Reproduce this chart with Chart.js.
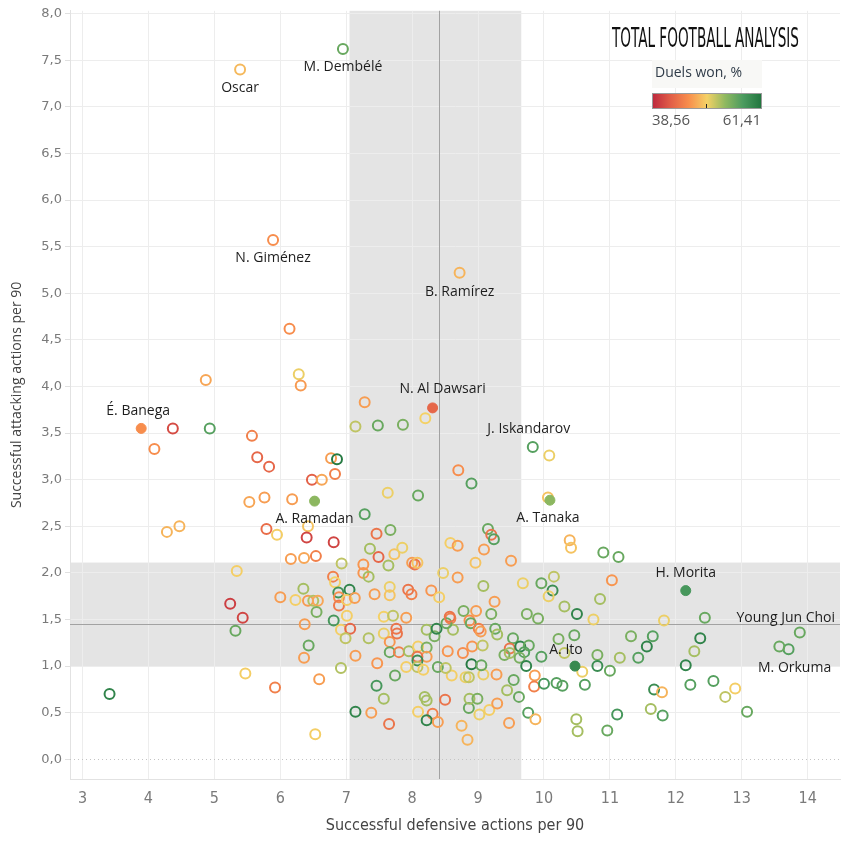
<!DOCTYPE html>
<html><head><meta charset="utf-8">
<script src="https://cdn.jsdelivr.net/npm/chart.js@4.4.1/dist/chart.umd.min.js"></script>
<style>html,body{margin:0;padding:0;background:#fff;}canvas{display:block;}</style>
</head><body>
<canvas id="c" width="847" height="849"></canvas>
<script>
// ---------- DATA ----------
const playerNames = ['É. Banega','A. Ramadan','N. Al Dawsari','A. Tanaka','H. Morita','A. Ito',
  'M. Dembélé','Oscar','N. Giménez','B. Ramírez','J. Iskandarov','Young Jun Choi','M. Orkuma'];
const filledPlayers = ['É. Banega','A. Ramadan','N. Al Dawsari','A. Tanaka','H. Morita','A. Ito'];

const defActions = [
  3.89, 6.52, 8.31, 10.09, 12.15, 10.47, 6.95, 5.39, 5.89, 8.72, 9.83, 13.88, 13.71,
  6.14, 4.87, 6.28, 6.31, 7.28, 7.14, 7.48, 7.86, 8.20, 4.37,
  4.93, 4.09, 5.57, 5.65, 5.83, 6.77, 6.86, 6.48, 6.63, 6.83,
  5.53, 5.76, 6.18, 4.28, 4.47, 5.79, 5.95, 6.42, 6.40, 6.81,
  6.16, 6.36, 6.54, 6.93, 5.34, 6.80, 6.83, 6.35, 6.88, 7.05,
  5.24, 6.00, 6.23, 6.42, 6.50, 6.57, 6.55, 6.89, 6.89, 7.01,
  7.13, 5.43, 5.32, 6.37, 6.43, 6.36, 6.81, 7.01, 6.92, 7.06,
  6.99, 7.34, 7.14, 7.47, 7.57, 7.66, 7.66, 7.57, 6.92, 5.47,
  5.92, 6.59, 3.41, 6.53, 7.14, 7.38, 7.46, 7.57, 7.65, 7.46,
  7.67, 7.36, 7.49, 7.73, 7.85, 7.26, 7.26, 7.34, 7.64, 8.00,
  8.04, 8.08, 7.43, 7.66, 7.66, 7.94, 7.99, 8.29, 8.41, 7.71,
  7.91, 7.76, 7.77, 7.80, 7.95, 8.09, 8.22, 8.22, 8.34, 8.37,
  8.22, 8.08, 8.08, 7.91, 8.08, 8.17, 8.39, 7.74, 8.19, 8.22,
  8.09, 8.31, 8.22, 8.39, 8.58, 8.69, 9.15, 9.20, 9.24, 9.09,
  8.96, 9.50, 10.39, 10.41, 10.90, 11.13, 8.47, 8.69, 9.08, 9.25,
  9.68, 9.96, 10.15, 10.13, 10.07, 11.03, 10.85, 10.31, 10.50, 10.75,
  9.74, 9.91, 8.78, 8.97, 9.20, 8.58, 8.87, 8.89, 8.62, 9.01,
  9.04, 9.26, 9.29, 9.53, 8.54, 8.77, 8.91, 9.07, 9.48, 9.40,
  9.48, 9.64, 9.77, 9.70, 9.63, 9.96, 10.22, 10.46, 10.31, 10.81,
  10.81, 11.00, 10.58, 11.15, 11.32, 11.43, 9.73, 9.86, 9.85, 10.00,
  10.19, 10.28, 10.62, 9.54, 9.44, 9.62, 9.28, 9.08, 8.81, 8.86,
  8.60, 8.51, 8.90, 9.05, 8.50, 8.86, 8.87, 8.99, 9.02, 9.17,
  9.29, 8.75, 8.84, 9.47, 9.76, 9.87, 10.49, 10.51, 10.96, 11.11,
  8.52, 8.57, 10.08, 8.70, 8.90, 7.63, 8.09, 10.06, 7.28, 11.82,
  12.44, 11.65, 11.56, 12.37, 12.28, 12.15, 13.57, 11.67, 11.79, 11.62,
  11.80, 12.22, 12.57, 12.75, 12.90, 13.08
];
const attActions = [
  3.55, 2.77, 3.77, 2.78, 1.81, 1.00, 7.62, 7.40, 5.57, 5.22, 3.35, 1.36, 1.18,
  4.62, 4.07, 4.13, 4.01, 3.83, 3.57, 3.58, 3.59, 3.66, 3.55,
  3.55, 3.33, 3.47, 3.24, 3.14, 3.23, 3.22, 3.00, 3.00, 3.06,
  2.76, 2.81, 2.79, 2.44, 2.50, 2.47, 2.41, 2.50, 2.38, 2.33,
  2.15, 2.16, 2.18, 2.10, 2.02, 1.96, 1.90, 1.83, 1.79, 1.82,
  1.67, 1.74, 1.71, 1.70, 1.70, 1.70, 1.58, 1.74, 1.65, 1.71,
  1.73, 1.52, 1.38, 1.45, 1.22, 1.09, 1.49, 1.54, 1.39, 1.40,
  1.30, 1.30, 1.11, 1.03, 1.35, 1.26, 1.15, 1.53, 0.98, 0.92,
  0.77, 0.86, 0.70, 0.27, 0.51, 0.50, 0.79, 0.65, 0.38, 2.42,
  2.46, 2.26, 2.17, 2.20, 2.27, 2.09, 2.00, 1.96, 2.08, 2.11,
  2.09, 2.11, 1.77, 1.85, 1.76, 1.82, 1.77, 1.81, 1.74, 1.54,
  1.52, 1.40, 1.35, 1.15, 1.16, 1.21, 1.20, 1.39, 1.32, 1.40,
  1.10, 1.10, 1.06, 0.99, 0.99, 0.96, 0.99, 0.90, 0.67, 0.63,
  0.51, 0.49, 0.42, 0.40, 2.32, 2.29, 2.47, 2.41, 2.36, 2.25,
  2.11, 2.13, 2.35, 2.27, 2.22, 2.17, 2.00, 1.95, 1.86, 1.69,
  1.89, 1.89, 1.96, 1.81, 1.75, 1.92, 1.72, 1.64, 1.56, 1.50,
  1.56, 1.51, 1.59, 1.59, 1.56, 1.51, 1.49, 1.46, 1.39, 1.40,
  1.37, 1.40, 1.34, 1.30, 1.16, 1.14, 1.21, 1.22, 1.19, 1.12,
  1.14, 1.21, 1.22, 1.15, 1.09, 1.10, 1.29, 1.33, 1.14, 1.12,
  1.00, 0.95, 0.94, 1.09, 1.32, 1.09, 1.00, 0.90, 0.78, 0.81,
  0.82, 0.79, 0.80, 0.85, 0.74, 0.67, 0.91, 0.91, 0.88, 0.88,
  0.90, 0.98, 1.02, 1.01, 0.64, 0.55, 0.65, 0.65, 0.48, 0.53,
  0.60, 0.36, 0.21, 0.39, 0.50, 0.43, 0.43, 0.30, 0.31, 0.48,
  1.46, 1.53, 3.26, 3.10, 2.96, 2.86, 2.83, 2.81, 2.63, 1.49,
  1.52, 1.32, 1.21, 1.30, 1.16, 1.01, 1.21, 0.75, 0.72, 0.54,
  0.47, 0.80, 0.84, 0.67, 0.76, 0.51
];
const duelsWon = [
  46, 54, 43, 54, 58, 59.5, 56, 48.6, 46, 48.3, 57, 56, 57,
  46, 47.5, 50.3, 46.8, 47, 52, 56, 55, 50, 41,
  57, 46, 45, 43, 43, 47, 61, 42.5, 47.5, 45,
  47.5, 47, 47, 48.3, 48.3, 43.5, 49.8, 49.2, 40.5, 40.5,
  47, 47.5, 45, 52, 49.8, 45, 50, 53, 58.5, 60,
  40, 47, 49.8, 46.8, 52.5, 47.5, 55, 46, 44.5, 49.8,
  47, 40.5, 56, 47, 56, 47, 58, 49.8, 49.8, 43,
  52, 52.5, 47, 46.5, 50.3, 46.5, 56, 50, 52.5, 49.8,
  45, 47, 60, 49.8, 60, 47, 58, 53, 44, 44,
  55, 53, 43, 49.2, 50.3, 46.5, 46.5, 53, 53, 47,
  44, 49.2, 47, 50.3, 49.2, 44, 45, 46.5, 49.8, 52,
  47, 44, 44, 45, 53, 49.8, 55, 53, 55, 60,
  47, 44, 59, 49.8, 52, 49.8, 56, 56, 53, 53,
  49.8, 45, 60, 47, 49.8, 47, 56, 44, 57, 47,
  49.2, 47, 48.3, 49.2, 56, 56, 50.3, 47, 53, 47,
  50.3, 56, 52, 59, 50.3, 46.5, 53, 53, 60, 50.3,
  55, 55, 55, 47, 55, 45, 46, 56, 53, 45,
  47, 56, 53, 56, 46.5, 46, 46.5, 52, 44, 55,
  53, 60, 56, 57, 55, 57, 55, 56, 52, 55,
  59, 56, 50.3, 53, 55, 57, 60, 47, 45, 58,
  57, 57, 57, 56, 53, 56, 47, 50.3, 50.3, 52,
  49.8, 52, 61, 56, 44, 56, 53, 55, 50.3, 49.8,
  47, 48.3, 48.3, 47, 57, 48.3, 53, 53, 56, 58,
  56, 44, 50.3, 46, 57, 50.3, 56, 49.2, 57, 50.3,
  56, 57, 60, 60, 53, 60, 56, 59, 48.3, 53,
  57, 57, 57, 52, 49.8, 56
];
const xTicks = [3,4,5,6,7,8,9,10,11,12,13,14];
const yTicks = [0,0.5,1,1.5,2,2.5,3,3.5,4,4.5,5,5.5,6,6.5,7,7.5,8];
const duelRange = [38.56, 61.41];
const defBand = [7.05, 9.655];
const defMean = 8.405;
const attBand = [1.0, 2.111];
const attMean = 1.447;

// ---------- STYLE ----------
const paletteStops = ['#be2a3e','#e25f48','#f88f4d','#f4d166','#90b960','#4b9b5f','#22763f'];
function hexToRgb(h){return [parseInt(h.slice(1,3),16),parseInt(h.slice(3,5),16),parseInt(h.slice(5,7),16)];}
function duelColor(v){
  let t=(v-duelRange[0])/(duelRange[1]-duelRange[0]); t=Math.max(0,Math.min(1,t));
  const p=t*(paletteStops.length-1); const i=Math.min(paletteStops.length-2,Math.floor(p)); const f=p-i;
  const a=hexToRgb(paletteStops[i]), b=hexToRgb(paletteStops[i+1]);
  return 'rgb('+a.map((c,k)=>Math.round(c+(b[k]-c)*f)).join(',')+')';
}
const labelOffsets = {
  'É. Banega':[-3,-17],'A. Ramadan':[0,18],'N. Al Dawsari':[10,-19],'A. Tanaka':[-2,18],
  'H. Morita':[0,-18],'A. Ito':[-9,-16],'M. Dembélé':[0,18],'Oscar':[0,18],'N. Giménez':[0,18],
  'B. Ramírez':[0,19],'J. Iskandarov':[-4,-18],'Young Jun Choi':[-14,-15],'M. Orkuma':[6,19]
};

const points = defActions.map((x,i)=>({x:x, y:attActions[i], d:duelsWon[i], name:playerNames[i]||''}));
const filledPts = points.filter(p=>filledPlayers.includes(p.name));
const hollowPts = points.filter(p=>!filledPlayers.includes(p.name));

const bgPlugin = {
  id:'bg',
  beforeDraw(chart){
    const {ctx, chartArea:a, scales:{x,y}} = chart;
    ctx.save();
    ctx.fillStyle='#e4e4e4';
    const x0=x.getPixelForValue(defBand[0]), x1=x.getPixelForValue(defBand[1]);
    ctx.fillRect(x0,a.top,x1-x0,a.bottom-a.top);
    const y0=y.getPixelForValue(attBand[1]), y1=y.getPixelForValue(attBand[0]);
    ctx.fillRect(a.left,y0,a.right-a.left,y1-y0);
    ctx.restore();
  },
  beforeDatasetsDraw(chart){
    const {ctx, chartArea:a, scales:{x,y}} = chart;
    ctx.save();
    ctx.strokeStyle='#a2a2a2'; ctx.lineWidth=1;
    const mx=Math.round(x.getPixelForValue(defMean))+0.5;
    ctx.beginPath(); ctx.moveTo(mx,a.top); ctx.lineTo(mx,a.bottom); ctx.stroke();
    const my=Math.round(y.getPixelForValue(attMean))+0.5;
    ctx.beginPath(); ctx.moveTo(a.left,my); ctx.lineTo(a.right,my); ctx.stroke();
    const zy=Math.round(y.getPixelForValue(0))+0.5;
    ctx.strokeStyle='#c4c4c4'; ctx.setLineDash([1,3]);
    ctx.beginPath(); ctx.moveTo(a.left,zy); ctx.lineTo(a.right,zy); ctx.stroke();
    ctx.restore();
  },
  afterDatasetsDraw(chart){
    const {ctx} = chart;
    ctx.save();
    ctx.font='14px "Open Sans"'; ctx.fillStyle='#1e1e1e'; ctx.textAlign='center'; ctx.textBaseline='middle';
    chart.data.datasets.forEach((ds,di)=>{
      const meta=chart.getDatasetMeta(di);
      ds.data.forEach((p,j)=>{
        if(!p.name) return;
        const el=meta.data[j]; const off=labelOffsets[p.name]||[0,-18];
        ctx.fillText(p.name, el.x+off[0], el.y+off[1]);
      });
    });
    ctx.restore();
  },
  afterDraw(chart){
    const {ctx} = chart;
    ctx.save();
    // logo
    ctx.font='26px "Liberation Sans Narrow", "DejaVu Sans Condensed", sans-serif';
    ctx.fillStyle='#111'; ctx.textBaseline='middle'; ctx.textAlign='left';
    const logo='TOTAL FOOTBALL ANALYSIS';
    const w=ctx.measureText(logo).width;
    ctx.translate(612,40); ctx.scale(187/w,1); ctx.fillText(logo,0,0);
    ctx.restore();
    ctx.save();
    // legend
    ctx.fillStyle='#f8f8f6'; ctx.fillRect(652,60,110,28);
    ctx.font='14px "Open Sans"'; ctx.fillStyle='#2f3b48'; ctx.textBaseline='middle'; ctx.textAlign='left';
    ctx.fillText('Duels won, %',655,73);
    const g=ctx.createLinearGradient(653,0,761,0);
    paletteStops.forEach((c,i)=>g.addColorStop(i/(paletteStops.length-1),c));
    ctx.fillStyle=g; ctx.fillRect(653,94,108,14);
    ctx.strokeStyle='#9a9a9a'; ctx.lineWidth=1; ctx.strokeRect(652.5,93.5,109,15);
    ctx.strokeStyle='#222'; ctx.beginPath(); ctx.moveTo(706.5,104); ctx.lineTo(706.5,108); ctx.stroke();
    ctx.font='15px "Open Sans"'; ctx.fillStyle='#555';
    ctx.textAlign='left'; ctx.fillText(duelRange[0].toFixed(2).replace('.',','),652,121);
    ctx.textAlign='right'; ctx.fillText(duelRange[1].toFixed(2).replace('.',','),761,121);
    ctx.restore();
  }
};

new Chart(document.getElementById('c'), {
  type:'scatter',
  data:{datasets:[
    {data:filledPts, pointRadius:5, pointHoverRadius:5, borderWidth:1,
     pointBackgroundColor:c=>duelColor(c.raw.d), pointBorderColor:c=>duelColor(c.raw.d)},
    {data:hollowPts, pointRadius:5, pointHoverRadius:5, borderWidth:2,
     pointBackgroundColor:'rgba(0,0,0,0)', pointBorderColor:c=>duelColor(c.raw.d)}
  ]},
  options:{
    responsive:false, animation:false, devicePixelRatio:1,
    layout:{padding:{top:10,right:6,left:0,bottom:0}},
    plugins:{legend:{display:false}, tooltip:{enabled:false}},
    scales:{
      x:{type:'linear', min:2.81, max:14.49,
        afterBuildTicks:s=>{s.ticks=xTicks.map(v=>({value:v}));},
        afterFit:s=>{s.height=70;},
        grid:{color:'#ededed', drawTicks:false},
        border:{color:'#e2e2e2'},
        ticks:{padding:10, color:'#7a7a7a', font:{family:'"Liberation Sans Narrow", "DejaVu Sans Condensed", sans-serif', size:16}, callback:v=>String(v), autoSkip:false, maxRotation:0},
        title:{display:true, text:'Successful defensive actions per 90', color:'#444', padding:{bottom:14, top:0},
          font:{family:'"Liberation Sans Narrow", "DejaVu Sans Condensed", sans-serif', size:16}}
      },
      y:{type:'linear', min:-0.211, max:8.03,
        afterBuildTicks:s=>{s.ticks=yTicks.map(v=>({value:v}));},
        afterFit:s=>{s.width=70;},
        grid:{color:c=>(c.tick && c.tick.value===0)?'rgba(0,0,0,0)':'#ededed', tickLength:5, tickColor:'#e0e0e0'},
        border:{color:'#e2e2e2'},
        ticks:{padding:3, color:'#7a7a7a', font:{family:'"DejaVu Sans"', size:13}, callback:v=>Number(v).toFixed(1).replace('.',','), autoSkip:false},
        title:{display:true, text:'Successful attacking actions per 90', color:'#444', padding:{top:9,bottom:0},
          font:{family:'"Open Sans"', size:14}}
      }
    }
  },
  plugins:[bgPlugin]
});
</script>
</body></html>
